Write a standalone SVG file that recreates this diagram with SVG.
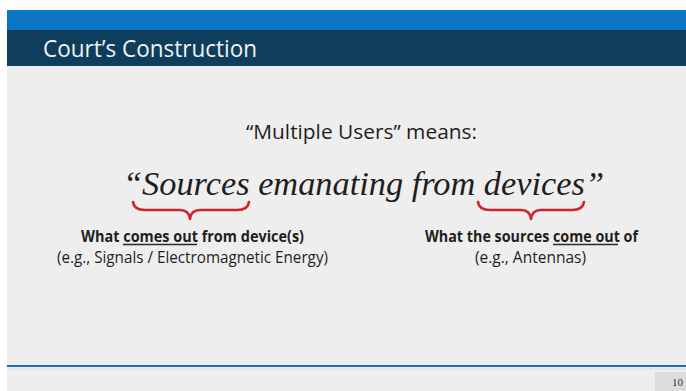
<svg xmlns="http://www.w3.org/2000/svg" width="686" height="391" viewBox="0 0 686 391">
<style>
.sans{font-family:"Open Sans","Liberation Sans",sans-serif;fill:#1e1e1e}
.bold{font-weight:bold}
.serif{font-family:"Liberation Serif","DejaVu Serif",serif;font-style:italic;fill:#1e1e1e}
.brace{fill:none;stroke:#d3222e;stroke-width:2.6;stroke-linecap:round;stroke-linejoin:round}
.ul{stroke:#2a2a2a;stroke-width:1.3}
</style>
<rect x="0" y="0" width="686" height="391" fill="#ffffff"/>
<rect x="7" y="66" width="679" height="325" fill="#eeeeee"/>
<g id="header">
<rect x="7" y="10" width="679" height="20" fill="#0b76c6"/>
<rect x="7" y="30" width="679" height="36" fill="#0f3d5c"/>
<text x="43" y="57" font-family="Open Sans, Liberation Sans, sans-serif" font-size="23" fill="#eef3f6" textLength="214" lengthAdjust="spacingAndGlyphs">Court’s Construction</text>
</g>
<g id="subtitle">
<text class="sans" x="246" y="139" font-size="20.5" textLength="231" lengthAdjust="spacingAndGlyphs">“Multiple Users” means:</text>
</g>
<g id="quote">
<text class="serif" x="123" y="195" font-size="33.5" textLength="481" lengthAdjust="spacingAndGlyphs">“Sources emanating from devices”</text>
</g>
<g id="connectors">
<path class="brace" d="M133,202 Q134,210 145,210 L180,210 Q189,210 190,219 Q191,210 200,210 L237,210 Q248,210 249,202"/>
<path class="brace" d="M478,202 Q479,210 490,210 L521,210 Q530,210 531,219 Q532,210 541,210 L572,210 Q583,210 584,202"/>
</g>
<g id="left-label">
<text class="sans bold" x="81" y="241.5" font-size="15.5" textLength="223" lengthAdjust="spacingAndGlyphs">What comes out from device(s)</text>
<line class="ul" x1="123" y1="244.5" x2="197" y2="244.5"/>
<text class="sans" x="57" y="262.5" font-size="15.5" textLength="271" lengthAdjust="spacingAndGlyphs">(e.g., Signals / Electromagnetic Energy)</text>
</g>
<g id="right-label">
<text class="sans bold" x="425" y="241.5" font-size="15.5" textLength="213" lengthAdjust="spacingAndGlyphs">What the sources come out of</text>
<line class="ul" x1="553" y1="244.5" x2="618" y2="244.5"/>
<text class="sans" x="475" y="262.5" font-size="15.5" textLength="111" lengthAdjust="spacingAndGlyphs">(e.g., Antennas)</text>
</g>
<g id="footer">
<line x1="7" y1="366" x2="686" y2="366" stroke="#1d6fb8" stroke-width="2"/>
<line x1="7" y1="369" x2="686" y2="369" stroke="#cfe0ef" stroke-width="1"/>
<rect x="655" y="372" width="31" height="19" fill="#dcdcdc"/>
<text x="672" y="386" font-family="Liberation Serif, serif" font-size="11" fill="#333">10</text>
</g>
</svg>
